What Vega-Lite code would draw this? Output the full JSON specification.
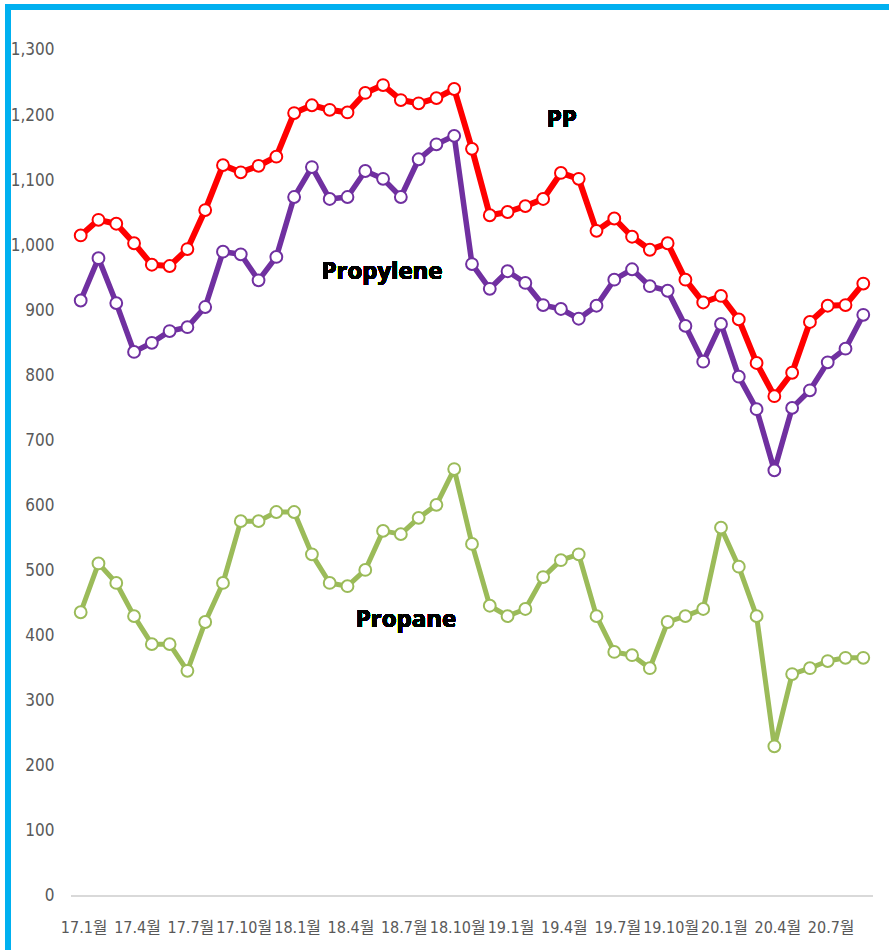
{
  "$schema": "https://vega.github.io/schema/vega-lite/v6.json",
  "autosize": {"type": "none"},
  "padding": {"left": 8, "top": 7, "right": 0, "bottom": 0},
  "width": 881,
  "height": 943,
  "background": "white",
  "config": {
    "view": {"stroke": "#00B0F0", "strokeWidth": 6, "strokeDash": [881, 1824, 950], "strokeCap": "square"}
  },
  "data": {
    "values": [
      {"i": 0, "PP": 1015, "Propylene": 915, "Propane": 436},
      {"i": 1, "PP": 1039, "Propylene": 980, "Propane": 511},
      {"i": 2, "PP": 1033, "Propylene": 911, "Propane": 481},
      {"i": 3, "PP": 1003, "Propylene": 836, "Propane": 430},
      {"i": 4, "PP": 970, "Propylene": 850, "Propane": 387},
      {"i": 5, "PP": 968, "Propylene": 868, "Propane": 387},
      {"i": 6, "PP": 994, "Propylene": 874, "Propane": 346},
      {"i": 7, "PP": 1054, "Propylene": 905, "Propane": 421},
      {"i": 8, "PP": 1123, "Propylene": 990, "Propane": 481},
      {"i": 9, "PP": 1112, "Propylene": 986, "Propane": 576},
      {"i": 10, "PP": 1122, "Propylene": 946, "Propane": 576},
      {"i": 11, "PP": 1136, "Propylene": 982, "Propane": 590},
      {"i": 12, "PP": 1203, "Propylene": 1074, "Propane": 590},
      {"i": 13, "PP": 1215, "Propylene": 1120, "Propane": 525},
      {"i": 14, "PP": 1208, "Propylene": 1071, "Propane": 481},
      {"i": 15, "PP": 1204, "Propylene": 1074, "Propane": 476},
      {"i": 16, "PP": 1234, "Propylene": 1114, "Propane": 501},
      {"i": 17, "PP": 1246, "Propylene": 1102, "Propane": 561},
      {"i": 18, "PP": 1223, "Propylene": 1074, "Propane": 556},
      {"i": 19, "PP": 1218, "Propylene": 1132, "Propane": 581},
      {"i": 20, "PP": 1226, "Propylene": 1155, "Propane": 601},
      {"i": 21, "PP": 1240, "Propylene": 1168, "Propane": 656},
      {"i": 22, "PP": 1148, "Propylene": 971, "Propane": 541},
      {"i": 23, "PP": 1046, "Propylene": 933, "Propane": 446},
      {"i": 24, "PP": 1051, "Propylene": 960, "Propane": 430},
      {"i": 25, "PP": 1060, "Propylene": 942, "Propane": 441},
      {"i": 26, "PP": 1071, "Propylene": 908, "Propane": 490},
      {"i": 27, "PP": 1111, "Propylene": 902, "Propane": 516},
      {"i": 28, "PP": 1102, "Propylene": 887, "Propane": 525},
      {"i": 29, "PP": 1022, "Propylene": 907, "Propane": 430},
      {"i": 30, "PP": 1041, "Propylene": 947, "Propane": 375},
      {"i": 31, "PP": 1013, "Propylene": 963, "Propane": 370},
      {"i": 32, "PP": 993, "Propylene": 937, "Propane": 350},
      {"i": 33, "PP": 1003, "Propylene": 930, "Propane": 421},
      {"i": 34, "PP": 947, "Propylene": 876, "Propane": 430},
      {"i": 35, "PP": 912, "Propylene": 821, "Propane": 441},
      {"i": 36, "PP": 922, "Propylene": 879, "Propane": 566},
      {"i": 37, "PP": 886, "Propylene": 798, "Propane": 506},
      {"i": 38, "PP": 819, "Propylene": 748, "Propane": 430},
      {"i": 39, "PP": 768, "Propylene": 654, "Propane": 230},
      {"i": 40, "PP": 804, "Propylene": 750, "Propane": 341},
      {"i": 41, "PP": 882, "Propylene": 777, "Propane": 350},
      {"i": 42, "PP": 907, "Propylene": 820, "Propane": 361},
      {"i": 43, "PP": 908, "Propylene": 841, "Propane": 366},
      {"i": 44, "PP": 941, "Propylene": 893, "Propane": 366}
    ]
  },
  "layer": [
    {
      "mark": {"type": "rule", "color": "#D9D9D9", "strokeWidth": 1.5},
      "encoding": {
        "x": {"datum": -0.5, "type": "quantitative", "scale": {"domain": [-4.087, 45.446], "nice": false, "zero": false}},
        "x2": {"datum": 44.5},
        "y": {"datum": 0, "type": "quantitative", "scale": {"domain": [-83, 1366], "nice": false, "zero": false}}
      }
    },
    {
      "transform": [{"fold": ["Propane", "Propylene", "PP"], "as": ["series", "v"]}],
      "mark": {"type": "line", "strokeJoin": "round", "strokeCap": "round"},
      "encoding": {
        "x": {
          "field": "i", "type": "quantitative",
          "axis": {
            "title": null, "values": [0, 3, 6, 9, 12, 15, 18, 21, 24, 27, 30, 33, 36, 39, 42],
            "labelExpr": "(17 + floor(datum.value / 12)) + '.' + (datum.value % 12 + 1) + '월'",
            "domain": false, "ticks": false, "tickSize": 0, "grid": false,
            "offset": -54, "labelPadding": 23, "labelOffset": 3,
            "labelFont": "DejaVu Sans Condensed, Liberation Sans Narrow, Roboto, Noto Sans CJK KR", "labelFontSize": 16, "labelColor": "#595959",
            "labelFlush": false, "labelOverlap": false
          }
        },
        "y": {
          "field": "v", "type": "quantitative",
          "axis": {
            "title": null, "values": [0, 100, 200, 300, 400, 500, 600, 700, 800, 900, 1000, 1100, 1200, 1300],
            "format": ",.0f", "domain": false, "ticks": false, "tickSize": 0, "grid": false,
            "offset": -46, "labelPadding": 0,
            "labelFont": "DejaVu Sans Condensed, Liberation Sans Narrow, Roboto", "labelFontSize": 17, "labelColor": "#595959",
            "labelFlush": false, "labelOverlap": false
          }
        },
        "color": {
          "field": "series", "type": "nominal", "legend": null,
          "scale": {"domain": ["PP", "Propylene", "Propane"], "range": ["#FF0000", "#7030A0", "#9BBB59"]}
        },
        "strokeWidth": {
          "field": "series", "type": "nominal", "legend": null,
          "scale": {"domain": ["PP", "Propylene", "Propane"], "range": [6, 5, 5]}
        },
        "order": {"field": "i"}
      }
    },
    {
      "transform": [{"fold": ["Propane", "Propylene", "PP"], "as": ["series", "v"]}],
      "mark": {"type": "point", "filled": false, "fill": "white", "fillOpacity": 1, "opacity": 1, "size": 140, "strokeWidth": 2},
      "encoding": {
        "x": {"field": "i", "type": "quantitative"},
        "y": {"field": "v", "type": "quantitative"},
        "stroke": {
          "field": "series", "type": "nominal", "legend": null,
          "scale": {"domain": ["PP", "Propylene", "Propane"], "range": ["#FF0000", "#7030A0", "#9BBB59"]}
        }
      }
    },
    {
      "mark": {"type": "text", "font": "Open Sans", "fontWeight": "bold", "fontSize": 24, "fill": "black", "strokeWidth": 0, "align": "center", "baseline": "middle"},
      "encoding": {"x": {"datum": 27.05}, "y": {"datum": 1192}, "text": {"value": "PP"}}
    },
    {
      "mark": {"type": "text", "font": "Open Sans", "fontWeight": "bold", "fontSize": 24, "fill": "black", "strokeWidth": 0, "align": "center", "baseline": "middle"},
      "encoding": {"x": {"datum": 16.94}, "y": {"datum": 959}, "text": {"value": "Propylene"}}
    },
    {
      "mark": {"type": "text", "font": "Open Sans", "fontWeight": "bold", "fontSize": 24, "fill": "black", "strokeWidth": 0, "align": "center", "baseline": "middle"},
      "encoding": {"x": {"datum": 18.29}, "y": {"datum": 424}, "text": {"value": "Propane"}}
    }
  ]
}
